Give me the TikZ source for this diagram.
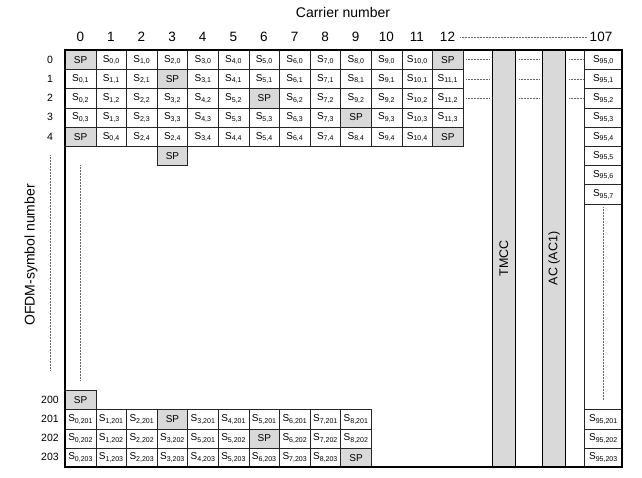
\documentclass[tikz,border=0pt]{standalone}
\usepackage{fontspec}
\setmainfont{Liberation Sans}
\definecolor{spgray}{HTML}{D9D9D9}
\newcommand\symS[2]{S\textsubscript{#1,#2}}
\begin{document}
\begin{tikzpicture}[x=1pt,y=-1pt,
  cell/.style={draw=black!85, line width=0.7pt, minimum width=30.6pt, minimum height=19.2pt,
    inner sep=0pt, anchor=north west, font=\fontsize{10}{12}\selectfont},
  spc/.style={cell, fill=spgray},
  dc/.style={cell, fill=white},
  rcell/.style={dc, minimum width=37.6pt},
  band/.style={draw=black, line width=0.8pt, fill=spgray, rotate=90, minimum width=416.9pt,
    minimum height=23pt, inner sep=0pt, font=\fontsize{12.5}{14}\selectfont},
  collab/.style={font=\fontsize{13.5}{15}\selectfont, inner sep=1pt},
  rowlab/.style={font=\fontsize{10.5}{12}\selectfont, inner sep=1pt},
  titlelab/.style={font=\fontsize{14}{16}\selectfont, inner sep=1pt},
  dots/.style={line width=0.6pt, black!60, dash pattern=on 0.6pt off 0.9pt}]
\useasboundingbox (0,0) rectangle (642,477);

% titles
\node[titlelab] (carrier) at (343,12) {Carrier number};
\node[titlelab, rotate=90] (ofdm) at (31,255) {OFDM-symbol number};

% column numbers
\foreach \i in {0,...,12} \node[collab] (cl\i) at ({65+30.6*(\i+0.5)},37) {\i};
\node[collab] (cl107) at (601,37) {107};
\draw[dots] ([xshift=4pt]cl12.east) -- ([xshift=-1pt]cl107.west);

% row numbers
\foreach \r in {0,...,4} \node[rowlab] (rl\r) at (50,{59.6+19.2*\r}) {\r};
\foreach \r/\k in {200/0,201/1,202/2,203/3} \node[rowlab] (rl\r) at (50,{399.7+19.2*\k}) {\r};
\coordinate (rdA) at (50,155);
\coordinate (rdB) at (50,370);
\draw[dots] (rdA) -- (rdB);

% bands
\node[band] (tmcc) at (503.8,258.45) {TMCC};
\node[band] (ac) at (554.2,258.45) {AC (AC1)};

% rows 0..4
\foreach \st/\lab [count=\i from 0] in {spc/SP,dc/\symS{0}{0},dc/\symS{1}{0},dc/\symS{2}{0},dc/\symS{3}{0},dc/\symS{4}{0},dc/\symS{5}{0},dc/\symS{6}{0},dc/\symS{7}{0},dc/\symS{8}{0},dc/\symS{9}{0},dc/\symS{10}{0},spc/SP}
  \node[\st] (r0c\i) at ({65+30.6*\i},50) {\lab};
\foreach \st/\lab [count=\i from 0] in {dc/\symS{0}{1},dc/\symS{1}{1},dc/\symS{2}{1},spc/SP,dc/\symS{3}{1},dc/\symS{4}{1},dc/\symS{5}{1},dc/\symS{6}{1},dc/\symS{7}{1},dc/\symS{8}{1},dc/\symS{9}{1},dc/\symS{10}{1},dc/\symS{11}{1}}
  \node[\st] (r1c\i) at ({65+30.6*\i},69.2) {\lab};
\foreach \st/\lab [count=\i from 0] in {dc/\symS{0}{2},dc/\symS{1}{2},dc/\symS{2}{2},dc/\symS{3}{2},dc/\symS{4}{2},dc/\symS{5}{2},spc/SP,dc/\symS{6}{2},dc/\symS{7}{2},dc/\symS{9}{2},dc/\symS{9}{2},dc/\symS{10}{2},dc/\symS{11}{2}}
  \node[\st] (r2c\i) at ({65+30.6*\i},88.4) {\lab};
\foreach \st/\lab [count=\i from 0] in {dc/\symS{0}{3},dc/\symS{1}{3},dc/\symS{2}{3},dc/\symS{3}{3},dc/\symS{4}{3},dc/\symS{5}{3},dc/\symS{5}{3},dc/\symS{6}{3},dc/\symS{7}{3},spc/SP,dc/\symS{9}{3},dc/\symS{10}{3},dc/\symS{11}{3}}
  \node[\st] (r3c\i) at ({65+30.6*\i},107.6) {\lab};
\foreach \st/\lab [count=\i from 0] in {spc/SP,dc/\symS{0}{4},dc/\symS{2}{4},dc/\symS{2}{4},dc/\symS{3}{4},dc/\symS{4}{4},dc/\symS{5}{4},dc/\symS{6}{4},dc/\symS{7}{4},dc/\symS{8}{4},dc/\symS{9}{4},dc/\symS{10}{4},spc/SP}
  \node[\st] (r4c\i) at ({65+30.6*\i},126.8) {\lab};
\node[spc] (r5c3) at ({65+30.6*3},146) {SP};

% dotted in first rows
\foreach \r in {0,1,2} {
  \draw[dots] ({466},{59.6+19.2*\r}) -- ({489},{59.6+19.2*\r});
  \draw[dots] ({519},{59.6+19.2*\r}) -- ({539},{59.6+19.2*\r});
  \draw[dots] ({569},{59.6+19.2*\r}) -- ({583},{59.6+19.2*\r});
}
\coordinate (vdA) at (80,165);
\coordinate (vdB) at (80,380);
\draw[dots] (vdA) -- (vdB);

% rows 200..203
\node[spc] (r200c0) at (65,390.1) {SP};
\foreach \st/\lab [count=\i from 0] in {dc/\symS{0}{201},dc/\symS{1}{201},dc/\symS{2}{201},spc/SP,dc/\symS{3}{201},dc/\symS{4}{201},dc/\symS{5}{201},dc/\symS{6}{201},dc/\symS{7}{201},dc/\symS{8}{201}}
  \node[\st] (r201c\i) at ({65+30.6*\i},409.3) {\lab};
\foreach \st/\lab [count=\i from 0] in {dc/\symS{0}{202},dc/\symS{1}{202},dc/\symS{2}{202},dc/\symS{3}{202},dc/\symS{5}{201},dc/\symS{5}{202},spc/SP,dc/\symS{6}{202},dc/\symS{7}{202},dc/\symS{8}{202}}
  \node[\st] (r202c\i) at ({65+30.6*\i},428.5) {\lab};
\foreach \st/\lab [count=\i from 0] in {dc/\symS{0}{203},dc/\symS{1}{203},dc/\symS{2}{203},dc/\symS{3}{203},dc/\symS{4}{203},dc/\symS{5}{203},dc/\symS{6}{203},dc/\symS{7}{203},dc/\symS{8}{203},spc/SP}
  \node[\st] (r203c\i) at ({65+30.6*\i},447.7) {\lab};

% column 107
\foreach \r in {0,...,7} \node[rcell] (rr\r) at (584.3,{50+19.2*\r}) {\symS{95}{\r}};
\foreach \r/\k in {201/0,202/1,203/2} \node[rcell] (rr\r) at (584.3,{409.3+19.2*\k}) {\symS{95}{\r}};
\draw[black!85, line width=0.7pt] (rr7.south west) -- (rr201.north west);
\coordinate (cdA) at (603,207);
\coordinate (cdB) at (603,400);
\draw[dots] (cdA) -- (cdB);

% outer frame
\draw[line width=2pt] (65,50) rectangle (622,466.9);
\end{tikzpicture}
\end{document}
